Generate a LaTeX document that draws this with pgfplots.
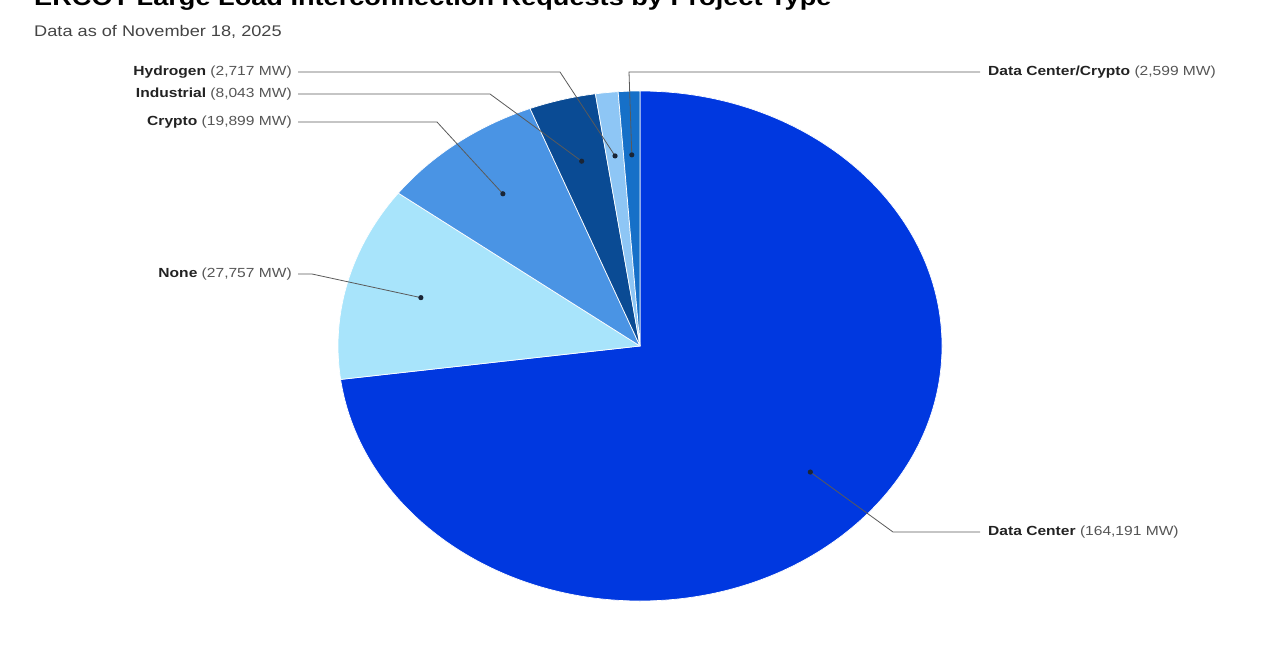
\documentclass[border=0pt]{standalone}
\usepackage{pgfplots}
\pgfplotsset{compat=1.18}
\usepackage{pgfplotstable}
\usepackage{fontspec}
\setmainfont{Liberation Sans}
\definecolor{c0}{HTML}{0038E0}
\definecolor{c1}{HTML}{A8E4FB}
\definecolor{c2}{HTML}{4A94E4}
\definecolor{c3}{HTML}{0A4B94}
\definecolor{c4}{HTML}{8EC6F5}
\definecolor{c5}{HTML}{1670C8}
\definecolor{lblgray}{HTML}{555555}
\definecolor{lbldark}{HTML}{222222}
\definecolor{leader}{HTML}{5A5A5A}
\definecolor{dotcol}{HTML}{1A2535}
\definecolor{subgray}{HTML}{444444}

\pgfplotstableread[col sep=comma]{
name,value
Data Center,164191
None,27757
Crypto,19899
Industrial,8043
Hydrogen,2717
Data Center/Crypto,2599
}\piedata

\def\total{0}
\pgfplotsforeachungrouped \i in {0,...,5}{%
  \pgfplotstablegetelem{\i}{value}\of\piedata
  \xdef\total{\fpeval{\total+\pgfplotsretval}}%
}
\def\cum{0}
\pgfplotsforeachungrouped \i in {0,...,5}{%
  \pgfplotstablegetelem{\i}{value}\of\piedata
  \expandafter\xdef\csname sa\i\endcsname{\fpeval{round(90-360*\cum/\total,4)}}%
  \xdef\cum{\fpeval{\cum+\pgfplotsretval}}%
  \expandafter\xdef\csname ea\i\endcsname{\fpeval{round(90-360*\cum/\total,4)}}%
  \expandafter\xdef\csname ma\i\endcsname{\fpeval{round((\csname sa\i\endcsname+\csname ea\i\endcsname)/2,4)}}%
}

\newcommand{\lbl}[2]{{\color{lbldark}\bfseries #1} {\color{lblgray}(#2 MW)}}

\begin{document}
\begin{tikzpicture}
\clip (0,0) rectangle (1280pt,650pt);
\begin{axis}[at={(0,0)}, anchor=south west, scale only axis,
  width=1280pt, height=650pt, xmin=0, xmax=1280, ymin=0, ymax=650,
  y dir=reverse, hide axis, clip=false]
\pgfplotsinvokeforeach{0,...,5}{%
  \fill[c#1, draw=white, line width=0.7pt, line join=round]
    (axis cs:640,346) --
    (axis cs:{640+302*cos(\csname sa#1\endcsname)},{346-255*sin(\csname sa#1\endcsname)})
    arc[start angle=\csname sa#1\endcsname, end angle=\csname ea#1\endcsname,
        x radius=302pt, y radius=255pt] -- cycle;
  \coordinate (d#1) at (axis cs:{640+0.75*302*cos(\csname ma#1\endcsname)},{346-0.75*255*sin(\csname ma#1\endcsname)});
}
% leader lines
\draw[leader, line width=0.8pt] (d0) -- (axis cs:893,532) -- (axis cs:980,532);
\draw[leader, line width=0.8pt] (d1) -- (axis cs:312,274) -- (axis cs:298,274);
\draw[leader, line width=0.8pt] (d2) -- (axis cs:437,122) -- (axis cs:298,122);
\draw[leader, line width=0.8pt] (d3) -- (axis cs:490,94) -- (axis cs:298,94);
\draw[leader, line width=0.8pt] (d4) -- (axis cs:560,72) -- (axis cs:298,72);
\draw[leader, line width=0.8pt] (d5) -- (axis cs:629,72) -- (axis cs:980,72);
\pgfplotsinvokeforeach{0,...,5}{%
  \fill[dotcol] (d#1) circle[radius=2.6pt];
}
% labels
\begin{scope}[every node/.style={inner sep=0pt, xscale=1.18, font=\fontsize{13.2}{15}\selectfont}]
\node[anchor=west] at (axis cs:988,532) {\lbl{Data Center}{164,191}};
\node[anchor=west] at (axis cs:988,72) {\lbl{Data Center/Crypto}{2,599}};
\node[anchor=east] at (axis cs:292,274) {\lbl{None}{27,757}};
\node[anchor=east] at (axis cs:292,122) {\lbl{Crypto}{19,899}};
\node[anchor=east] at (axis cs:292,94) {\lbl{Industrial}{8,043}};
\node[anchor=east] at (axis cs:292,72) {\lbl{Hydrogen}{2,717}};
\end{scope}
% title and subtitle
\node[anchor=base west, inner sep=0pt, xscale=1.18, font=\fontsize{23}{26}\selectfont\bfseries, text=black] at (axis cs:34,6) {ERCOT Large Load Interconnection Requests by Project Type};
\node[anchor=base west, inner sep=0pt, xscale=1.18, font=\fontsize{15.4}{18}\selectfont, text=subgray] at (axis cs:34,37) {Data as of November 18, 2025};
\end{axis}
\end{tikzpicture}
\end{document}
